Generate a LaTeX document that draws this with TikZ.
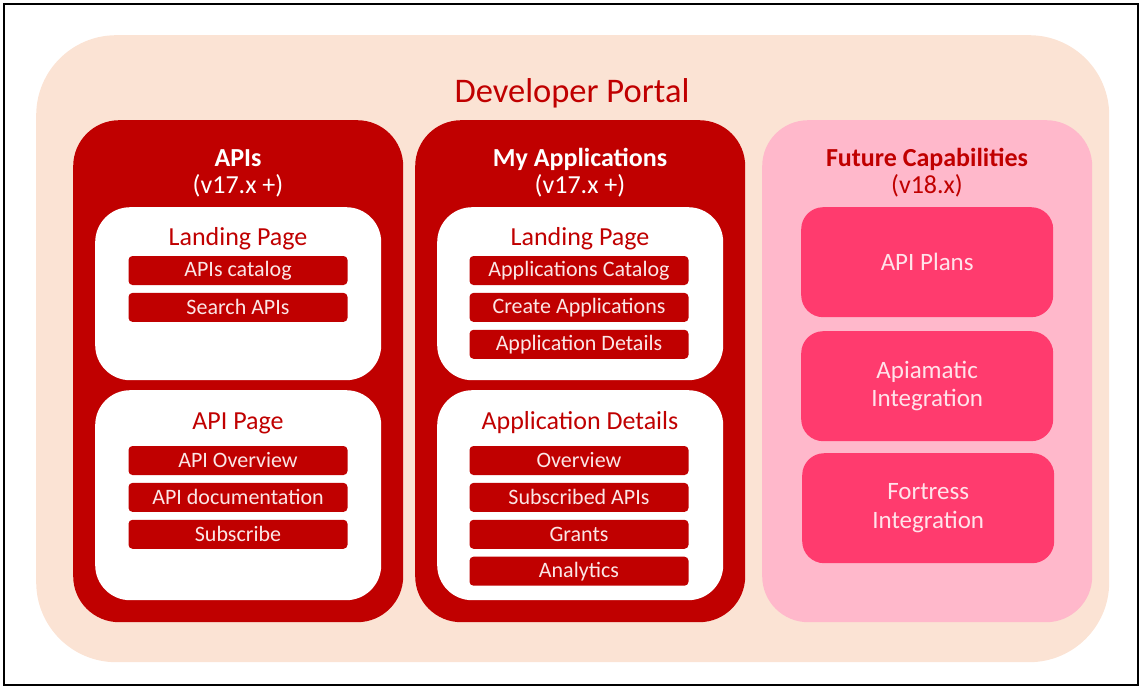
\documentclass[tikz,border=0pt]{standalone}
\usepackage{fontspec}
\setmainfont{Carlito}
\usetikzlibrary{positioning}
\definecolor{portal}{HTML}{FBE3D4}
\definecolor{darkred}{HTML}{C00000}
\definecolor{lightpink}{HTML}{FFB8CB}
\definecolor{hotpink}{HTML}{FF3B6E}
\definecolor{bartext}{HTML}{FBE6E6}
\definecolor{captext}{HTML}{FFE3EA}

\begin{document}
\begin{tikzpicture}[x=1pt,y=-1pt,
  every node/.style={inner sep=0pt},
  colbox/.style={rounded corners=46pt, minimum width=330pt, minimum height=502pt, anchor=north west},
  pagebox/.style={fill=white, rounded corners=35pt, minimum width=286pt, anchor=north west},
  bar/.style={fill=darkred, rounded corners=4pt, minimum width=219pt, minimum height=29pt,
    text=bartext, font=\fontsize{22}{24}\selectfont},
  capbox/.style={fill=hotpink, rounded corners=22pt, minimum width=252pt, minimum height=110pt,
    anchor=north west, text=captext, align=center, font=\fontsize{25}{28.5}\selectfont},
  headtext/.style={anchor=base, font=\fontsize{26}{28}\selectfont}]
\useasboundingbox (0,0) rectangle (1141,688);
\draw[line width=2.5pt] (4,4) rectangle (1138,685);

\node[fill=portal, rounded corners=80pt, minimum width=1073pt, minimum height=627pt, anchor=north west] (portal) at (36,35) {};
\node[anchor=base, text=darkred, font=\fontsize{34.5}{38}\selectfont] (portaltitle) at (572,102) {Developer Portal};

  \begin{scope}
\node[colbox, fill=darkred] (apis) at (73,120) {};
\node[headtext, text=white] (apistitle) at (238,166) {\bfseries APIs};
\node[headtext, text=white] (apisversion) at (238,193) {(v17.x +)};
\node[pagebox, minimum height=173pt] (apisland) at (95,207) {};
\node[headtext, text=darkred] (apislandtitle) at (238,245) {Landing Page};
\node[bar] (catalog) at (238,270.5) {APIs catalog};
\node[bar, below=7.5pt of catalog] (search) {Search APIs};
\node[pagebox, minimum height=210pt] (apipage) at (95,390) {};
\node[headtext, text=darkred] (apipagetitle) at (238,429) {API Page};
\node[bar] (overview) at (238,460.5) {API Overview};
\node[bar, below=7.5pt of overview] (documentation) {API documentation};
\node[bar, below=7.5pt of documentation] (subscribe) {Subscribe};
  \end{scope}

  \begin{scope}
\node[colbox, fill=darkred] (apps) at (415,120) {};
\node[headtext, text=white] (appstitle) at (580,166) {\bfseries My Applications};
\node[headtext, text=white] (appsversion) at (580,193) {(v17.x +)};
\node[pagebox, minimum height=173pt] (appsland) at (437,207) {};
\node[headtext, text=darkred] (appslandtitle) at (580,245) {Landing Page};
\node[bar] (appcatalog) at (579,270.5) {Applications Catalog};
\node[bar, below=7.5pt of appcatalog] (create) {Create Applications};
\node[bar, below=7.5pt of create] (details) {Application Details};
\node[pagebox, minimum height=210pt] (appdetails) at (437,390) {};
\node[headtext, text=darkred] (appdetailstitle) at (580,429) {Application Details};
\node[bar] (appoverview) at (579,460.5) {Overview};
\node[bar, below=7.5pt of appoverview] (subscribed) {Subscribed APIs};
\node[bar, below=7.5pt of subscribed] (grants) {Grants};
\node[bar, below=7.5pt of grants] (analytics) {Analytics};
  \end{scope}

  \begin{scope}
\node[colbox, fill=lightpink] (future) at (762,120) {};
\node[headtext, text=darkred] (futuretitle) at (927,166) {\bfseries Future Capabilities};
\node[headtext, text=darkred] (futureversion) at (927,193) {(v18.x)};
\node[capbox] (plans) at (801,207) {API Plans};
\node[capbox] (apiamatic) at (801,331) {Apiamatic\\Integration};
\node[capbox] (fortress) at (802,453) {Fortress\\Integration};
  \end{scope}
\end{tikzpicture}
\end{document}
